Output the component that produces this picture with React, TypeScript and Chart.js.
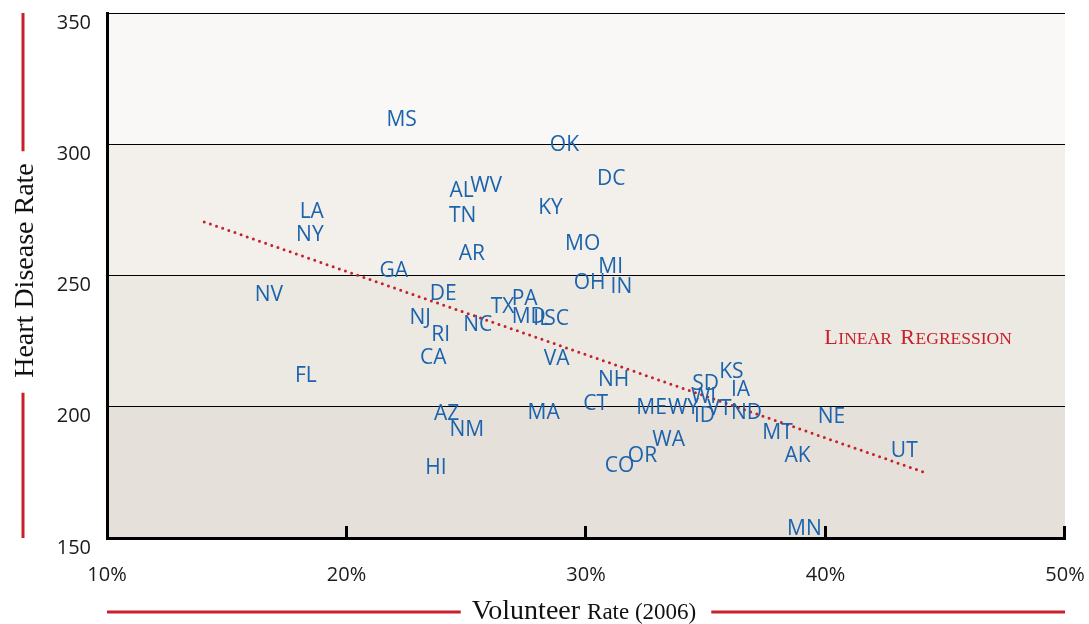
import React, { useEffect, useRef } from 'react';
import { Chart, registerables } from 'chart.js';

Chart.register(...registerables);

const states = ['MS', 'OK', 'DC', 'AL', 'WV', 'LA', 'TN', 'KY', 'NY', 'MO', 'AR', 'GA', 'MI', 'OH', 'IN', 'NV', 'DE', 'PA', 'TX', 'MD', 'IL', 'SC', 'NJ', 'RI', 'NC', 'CA', 'VA', 'FL', 'NH', 'KS', 'SD', 'IA', 'WI', 'CT', 'AZ', 'MA', 'ME', 'WY', 'VT', 'ID', 'ND', 'NE', 'NM', 'MT', 'WA', 'AK', 'OR', 'UT', 'HI', 'CO', 'MN'];
const volunteerRate = [22.3, 29.1, 31.05, 24.81, 25.83, 18.55, 24.85, 28.52, 18.47, 29.86, 25.23, 21.97, 31.03, 30.15, 31.48, 16.76, 24.04, 27.44, 26.52, 27.61, 28.15, 28.77, 23.08, 23.93, 25.48, 23.62, 28.77, 18.3, 31.15, 36.07, 34.99, 36.45, 34.91, 30.4, 24.18, 28.23, 32.74, 34.07, 35.57, 34.95, 36.7, 40.25, 25.02, 38.0, 33.45, 38.83, 32.36, 43.29, 23.73, 31.4, 39.12];
const heartDiseaseRate = [309.7, 300.2, 287.5, 282.9, 284.6, 274.7, 273.2, 276.2, 266.0, 262.5, 258.7, 252.2, 253.8, 247.7, 246.2, 243.1, 243.5, 241.8, 238.5, 234.7, 234.0, 234.2, 234.3, 227.9, 231.7, 219.3, 218.7, 212.3, 210.7, 213.8, 209.2, 206.9, 204.3, 201.6, 197.8, 198.2, 200.1, 200.1, 199.7, 197.0, 198.2, 196.6, 191.7, 190.6, 187.9, 181.8, 181.8, 183.7, 177.2, 178.0, 154.0];
const regressionX = [14.06, 44.2];
const regressionY = [270.4, 174.8];
const xTicks = [10, 20, 30, 40, 50];
const yTicks = [150, 200, 250, 300, 350];
const bandColors = ['#e5e0da', '#ece8e2', '#f3f0eb', '#f9f8f6'];

const RED = '#c8202a';
const BLUE = '#1b63ad';
const SANS = '"Open Sans", sans-serif';
const SERIF = '"Liberation Serif", serif';

const bandsPlugin = {
  id: 'bands',
  beforeDraw(chart: any) {
    const { ctx, chartArea, scales } = chart;
    const y = scales.y;
    ctx.save();
    for (let i = 0; i < yTicks.length - 1; i++) {
      const y0 = y.getPixelForValue(yTicks[i]);
      const y1 = y.getPixelForValue(yTicks[i + 1]);
      ctx.fillStyle = bandColors[i];
      ctx.fillRect(chartArea.left, y1, chartArea.right - chartArea.left, y0 - y1);
    }
    ctx.restore();
  },
};

const labelsPlugin = {
  id: 'stateLabels',
  afterDatasetsDraw(chart: any) {
    const { ctx } = chart;
    const meta = chart.getDatasetMeta(0);
    const size = 21;
    ctx.save();
    ctx.font = `${size}px ${SANS}`;
    ctx.fillStyle = BLUE;
    ctx.textAlign = 'center';
    ctx.textBaseline = 'alphabetic';
    meta.data.forEach((el: any, i: number) => {
      ctx.fillText(states[i], el.x, el.y + size * 0.36);
    });
    ctx.restore();
  },
};

const decorPlugin = {
  id: 'decor',
  afterDraw(chart: any) {
    const { ctx, chartArea, scales } = chart;
    const xs = scales.x;
    ctx.save();
    // inward tick marks on x axis
    ctx.strokeStyle = '#000';
    ctx.lineWidth = 3;
    xTicks.slice(1).forEach((v) => {
      const px = Math.round(xs.getPixelForValue(v)) - 0.5;
      ctx.beginPath();
      ctx.moveTo(px, chartArea.bottom - 12);
      ctx.lineTo(px, chartArea.bottom);
      ctx.stroke();
    });

    // y axis title
    const cy = (chartArea.top + chartArea.bottom) / 2 - 5;
    ctx.font = `28px ${SERIF}`;
    const yt = 'Heart Disease Rate';
    const yw = ctx.measureText(yt).width;
    ctx.save();
    ctx.translate(33, cy);
    ctx.rotate(-Math.PI / 2);
    ctx.fillStyle = '#111';
    ctx.textAlign = 'center';
    ctx.textBaseline = 'alphabetic';
    ctx.fillText(yt, 0, 0);
    ctx.restore();
    ctx.strokeStyle = RED;
    ctx.lineWidth = 3;
    ctx.beginPath();
    ctx.moveTo(23, chartArea.top);
    ctx.lineTo(23, cy - yw / 2 - 12);
    ctx.moveTo(23, cy + yw / 2 + 15);
    ctx.lineTo(23, chartArea.bottom);
    ctx.stroke();

    // x axis title
    const big = `28px ${SERIF}`;
    const small = `23px ${SERIF}`;
    ctx.font = big;
    const w1 = ctx.measureText('Volunteer ').width;
    ctx.font = small;
    const w2 = ctx.measureText('Rate (2006)').width;
    const cx = (chartArea.left + chartArea.right) / 2 - 2;
    const start = cx - (w1 + w2) / 2;
    const base = 619;
    ctx.fillStyle = '#111';
    ctx.textAlign = 'left';
    ctx.textBaseline = 'alphabetic';
    ctx.font = big;
    ctx.fillText('Volunteer ', start, base);
    ctx.font = small;
    ctx.fillText('Rate (2006)', start + w1, base);
    ctx.beginPath();
    ctx.moveTo(chartArea.left, 612);
    ctx.lineTo(start - 11, 612);
    ctx.moveTo(start + w1 + w2 + 15, 612);
    ctx.lineTo(chartArea.right, 612);
    ctx.stroke();

    // Linear Regression label (small caps)
    const lx = xs.getPixelForValue(39.95);
    const ly = scales.y.getPixelForValue(223.9);
    const parts: [string, number][] = [['L', 22], ['INEAR', 17.5], [' ', 22], ['R', 22], ['EGRESSION', 17.5]];
    let px = lx;
    ctx.fillStyle = RED;
    parts.forEach(([t, s]) => {
      ctx.font = `${s}px ${SERIF}`;
      ctx.fillText(t, px, ly);
      px += ctx.measureText(t).width + (t === ' ' ? 0 : 0.6 * t.length);
    });
    ctx.restore();
  },
};

export default function App() {
  const ref = useRef<HTMLCanvasElement>(null);
  useEffect(() => {
    const canvas = ref.current;
    if (!canvas) return;
    const points = states.map((_, i) => ({ x: volunteerRate[i], y: heartDiseaseRate[i] }));
    const regression = regressionX.map((x, i) => ({ x, y: regressionY[i] }));
    const chart = new Chart(canvas, {
      type: 'scatter',
      data: {
        datasets: [
          {
            label: 'States',
            data: points,
            pointRadius: 0,
            pointHoverRadius: 0,
          },
          {
            type: 'line',
            label: 'Linear Regression',
            data: regression,
            borderColor: RED,
            borderWidth: 3,
            borderDash: [0, 6.5],
            borderCapStyle: 'round',
            pointRadius: 0,
            fill: false,
          } as any,
        ],
      },
      options: {
        animation: false,
        responsive: false,
        devicePixelRatio: 1,
        events: [],
        layout: { padding: { left: 27, right: 24, top: 13, bottom: 0 } },
        plugins: { legend: { display: false }, tooltip: { enabled: false } },
        scales: {
          x: {
            type: 'linear',
            min: 10,
            max: 50,
            afterBuildTicks: (s: any) => {
              s.ticks = xTicks.map((v) => ({ value: v }));
            },
            afterFit: (s: any) => {
              s.height = 86;
              s.paddingLeft = 0;
              s.paddingRight = 0;
            },
            grid: { color: 'rgba(0,0,0,0)', drawTicks: false },
            border: { display: true, color: '#000', width: 3 },
            ticks: {
              padding: 25,
              color: '#1a1a1a',
              font: { family: SANS, size: 20 },
              maxRotation: 0,
              autoSkip: false,
              callback: (v: any) => `${v}%`,
            },
          },
          y: {
            type: 'linear',
            min: 150,
            max: 350,
            afterBuildTicks: (s: any) => {
              s.ticks = yTicks.map((v) => ({ value: v }));
            },
            afterFit: (s: any) => {
              s.width = 80;
              s.paddingTop = 0;
              s.paddingBottom = 0;
            },
            grid: {
              color: (c: any) => (c.tick && c.tick.value === 150 ? 'rgba(0,0,0,0)' : '#000'),
              lineWidth: 1,
              drawTicks: false,
            },
            border: { display: true, color: '#000', width: 3 },
            ticks: {
              padding: 16,
              labelOffset: 10,
              color: '#1a1a1a',
              font: { family: SANS, size: 20 },
              autoSkip: false,
            },
          },
        },
      },
      plugins: [bandsPlugin, labelsPlugin, decorPlugin],
    });
    return () => chart.destroy();
  }, []);
  return (
    <div style={{ position: 'fixed', left: 0, top: 0, width: 1089, height: 624, background: '#fff' }}>
      <canvas ref={ref} width={1089} height={624} style={{ display: 'block' }} />
    </div>
  );
}
